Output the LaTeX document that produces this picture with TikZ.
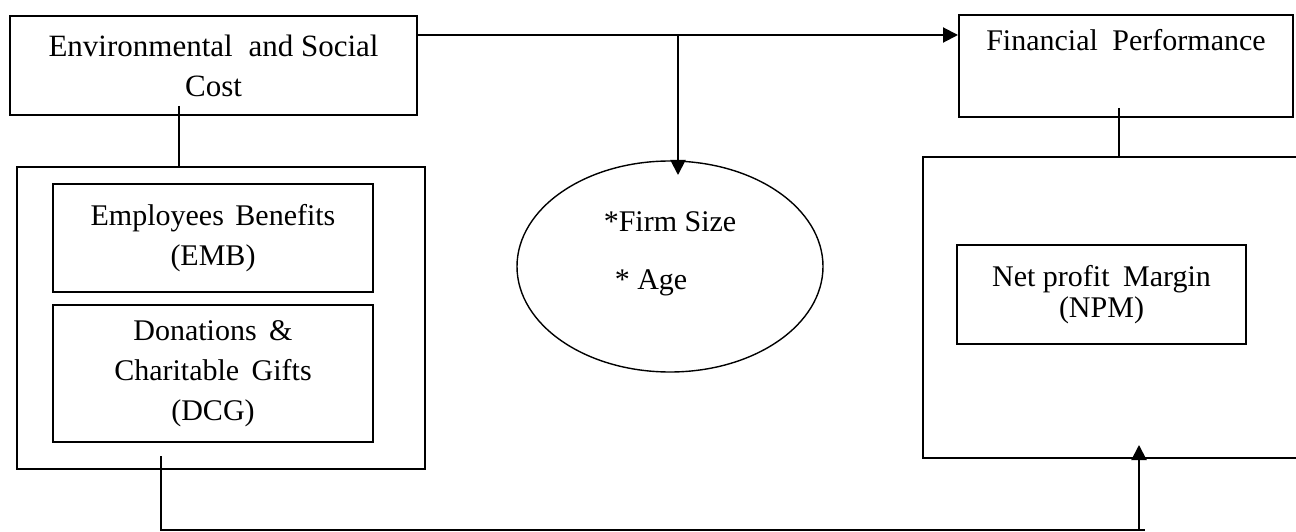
\documentclass[tikz,border=0pt]{standalone}
\usepackage{fontspec}
\setmainfont{Liberation Serif}
\usetikzlibrary{arrows.meta,shapes.geometric}
\begin{document}
\begin{tikzpicture}[x=1pt,y=-1pt,
  font=\fontsize{30}{40}\selectfont,
  box/.style={draw,line width=2pt,rectangle,inner sep=0pt,align=center},
  oval/.style={draw,line width=1.4pt,ellipse,inner sep=0pt},
  txt/.style={inner sep=0pt,align=center},
  conn/.style={line width=2pt},
  arr/.style={line width=2pt,-{Triangle[length=15pt,width=15pt]}}]
\clip (0,0) rectangle (1296,532);
\fill[white] (0,0) rectangle (1296,532);
% boxes
\node[box,minimum width=407pt,minimum height=99pt,font=\fontsize{31}{40}\selectfont] (env) at (213.5,65.5) {Environmental\hspace{8pt} and Social\\Cost};
\node[box,minimum width=408pt,minimum height=302pt] (lout) at (221,318) {};
\node[box,minimum width=320pt,minimum height=108pt] (emb) at (213,238) {Employees\hspace{4pt} Benefits\\(EMB)};
\node[box,minimum width=320pt,minimum height=137pt] (dcg) at (213,373.5) {Donations\hspace{5pt} \&\\Charitable\hspace{5pt} Gifts\\(DCG)};
\node[box,minimum width=334pt,minimum height=102pt] (fp) at (1126,66) {Financial\hspace{7pt} Performance\\\strut};
\node[box,minimum width=397pt,minimum height=301pt] (rout) at (1121.5,307.5) {};
\node[box,minimum width=289pt,minimum height=99pt,font=\fontsize{30}{31}\selectfont] (npm) at (1101.5,294.5) {Net profit\hspace{6pt} Margin\\(NPM)};
\node[oval,minimum width=306pt,minimum height=211pt] (mod) at (670,266.5) {};
\node[txt] (fs) at (670,222) {*Firm Size};
\node[txt] (age) at (651,283) {* Age};
% connectors
\coordinate (br) at (678,35);
\draw[arr] (env.east |- br) -- (fp.west |- br);
\draw[arr] (br) -- (678,175);
\draw[conn] (179,106) -- (lout.north -| 179,0);
\draw[conn] (1119,108) -- (rout.north -| 1119,0);
\coordinate (c1) at (161,456);
\coordinate (c2) at (161,530);
\coordinate (c3) at (1145,530);
\coordinate (c4) at (1139,530);
\draw[conn] (c1) -- (c2) -- (c3);
\draw[arr] (c4) -- (1139,445);
\end{tikzpicture}
\end{document}
